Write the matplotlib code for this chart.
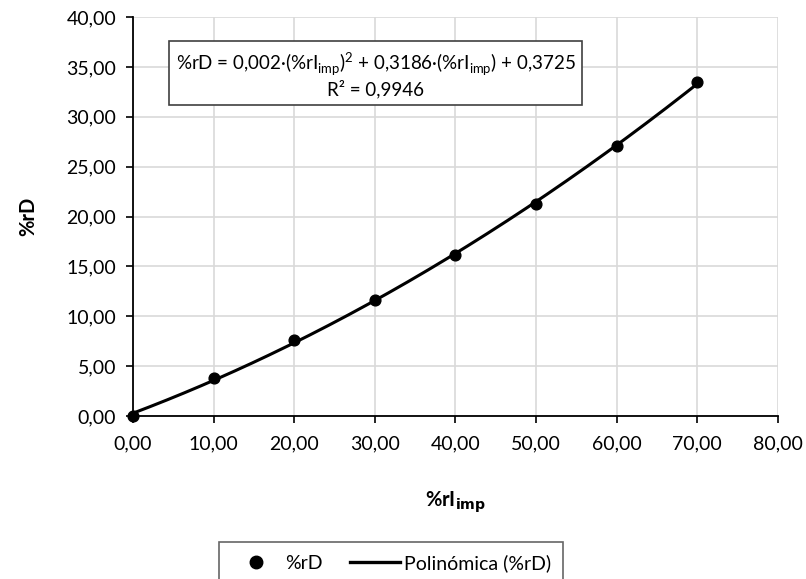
import numpy as np
import matplotlib.pyplot as plt

plt.rcParams['font.family'] = ['Lato', 'DejaVu Sans']

# measured points
ri_imp = [0, 10, 20, 30, 40, 50, 60, 70]
rd = [0.0, 3.81, 7.62, 11.63, 16.14, 21.25, 27.07, 33.5]

xticks = [0, 10, 20, 30, 40, 50, 60, 70, 80]
yticks = [0, 5, 10, 15, 20, 25, 30, 35, 40]

def fmt(v):
    return ('%.2f' % v).replace('.', ',')

# 2nd order trendline
coef = np.polyfit(ri_imp, rd, 2)
xs = np.linspace(min(ri_imp), max(ri_imp), 200)
ys = np.polyval(coef, xs)

fig = plt.figure(figsize=(8.06, 5.79), dpi=100)
ax = fig.add_axes([0.165, 0.2815, 0.800, 0.689])

ax.plot(xs, ys, color='black', lw=2.2, zorder=3)
ax.scatter(ri_imp, rd, s=60, color='black', zorder=4, clip_on=False)

ax.set_xlim(0, 80)
ax.set_ylim(0, 40)
ax.set_xticks(xticks)
ax.set_yticks(yticks)
ax.set_xticklabels([fmt(v) for v in xticks], fontsize=14)
ax.set_yticklabels([fmt(v) for v in yticks], fontsize=14)
ax.tick_params(axis='x', pad=9)
ax.tick_params(axis='y', pad=7)
ax.tick_params(direction='out', length=5, width=1.2, color='black')
ax.grid(True, color='#d9d9d9', lw=1.2)
ax.set_axisbelow(True)
for s in ['top', 'right']:
    ax.spines[s].set_visible(False)
for s in ['left', 'bottom']:
    ax.spines[s].set_linewidth(1.3)

ax.set_xlabel(r'%rI$_{\mathbf{imp}}$', fontsize=14.5, fontweight='bold', labelpad=27)
ax.set_ylabel('%rD', fontsize=14.5, fontweight='bold', labelpad=20)

eq = ('%rD = 0,002·(%rI$_{\\mathregular{imp}}$)$^{\\mathregular{2}}$ + 0,3186·(%rI$_{\\mathregular{imp}}$) + 0,3725\n'
      'R² = 0,9946')
ax.text(0.376, 0.855, eq, transform=ax.transAxes, ha='center', va='center',
        fontsize=13.5, linespacing=1.1,
        bbox=dict(boxstyle='square,pad=0.33', fc='white', ec='#404040', lw=1.2))

leg = fig.legend(handles=[
    plt.Line2D([], [], marker='o', ls='none', color='black', markersize=9, label='%rD'),
    plt.Line2D([], [], color='black', lw=2.4, label='Polinómica (%rD)')],
    loc='center', bbox_to_anchor=(0.485, 0.028), ncol=2, frameon=True,
    fontsize=14, fancybox=False, edgecolor='#404040', handlelength=2.6,
    handletextpad=0.2, columnspacing=1.4, borderpad=0.6, borderaxespad=0)
leg.get_frame().set_linewidth(1.2)

fig.savefig('out.png', dpi=100)
